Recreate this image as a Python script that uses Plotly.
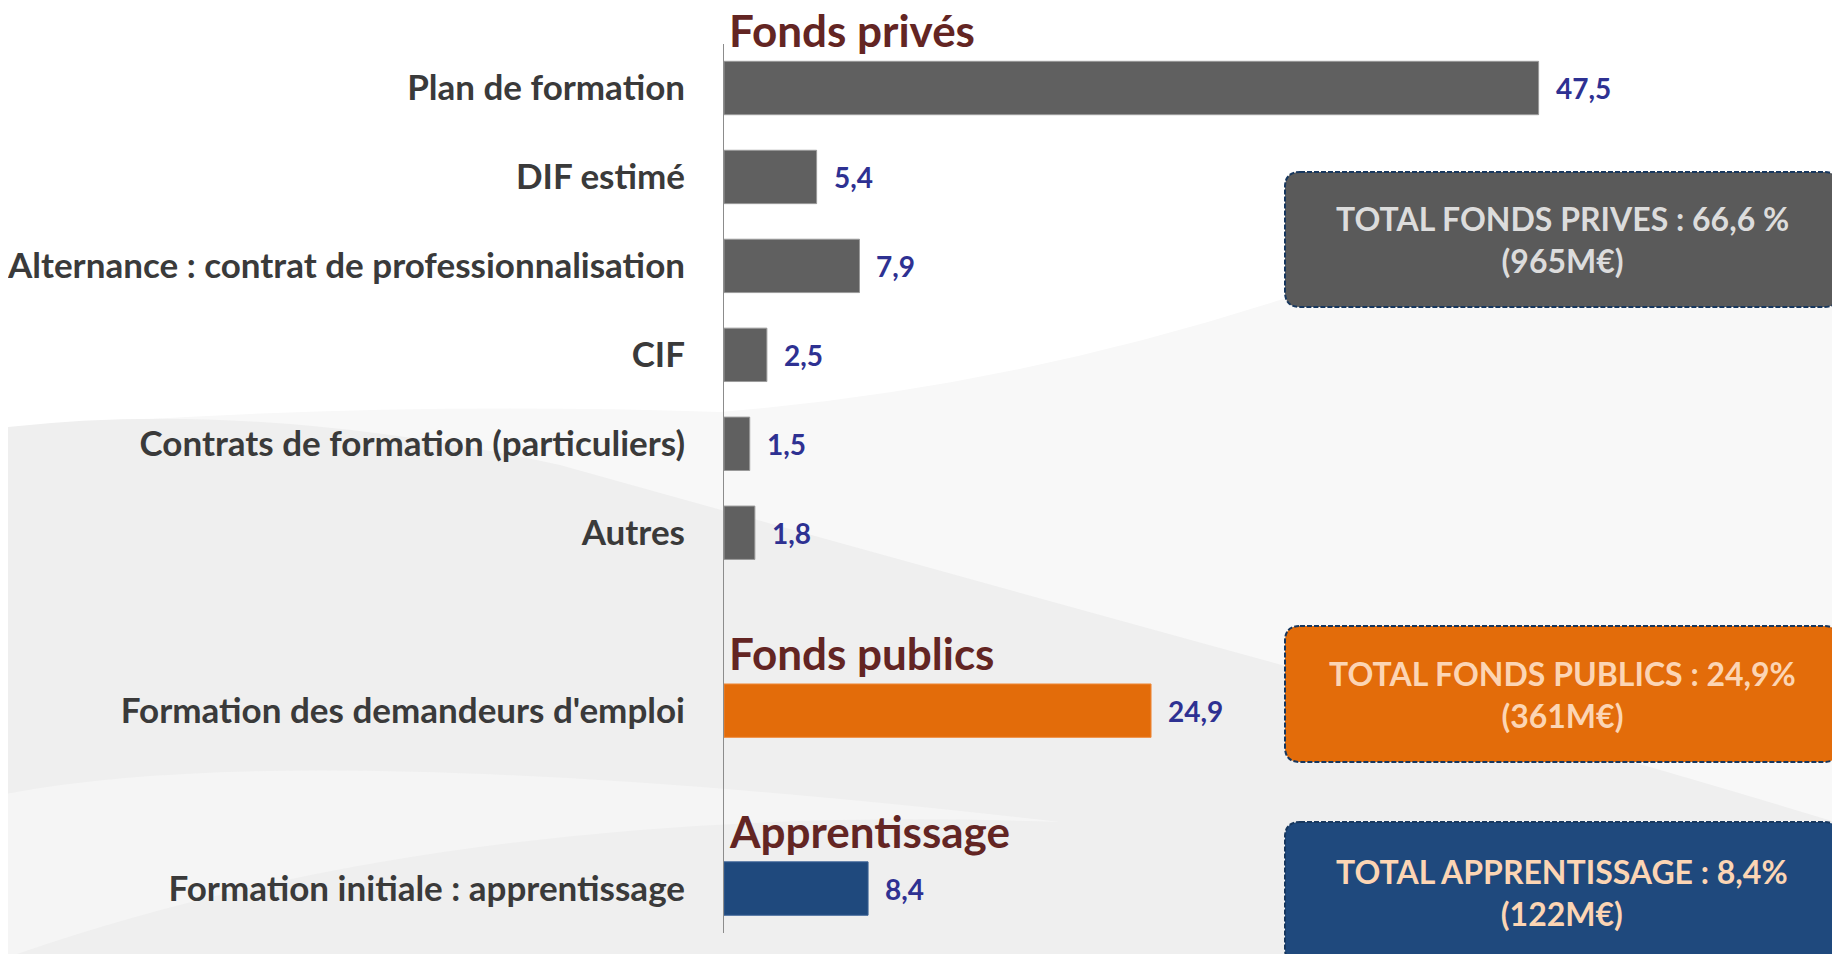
import plotly.graph_objects as go

# ---------------- data ----------------
categories = [
    "Plan de formation",
    "DIF estimé",
    "Alternance : contrat de professionnalisation",
    "CIF",
    "Contrats de formation (particuliers)",
    "Autres",
    "Formation des demandeurs d'emploi",
    "Formation initiale : apprentissage",
]
values = [47.5, 5.4, 7.9, 2.5, 1.5, 1.8, 24.9, 8.4]
groups = ["prive", "prive", "prive", "prive", "prive", "prive", "public", "apprentissage"]
group_titles = {"prive": "Fonds privés", "public": "Fonds publics", "apprentissage": "Apprentissage"}
group_totals = {
    "prive": ["TOTAL FONDS PRIVES : 66,6 %", "(965M€)"],
    "public": ["TOTAL FONDS PUBLICS : 24,9%", "(361M€)"],
    "apprentissage": ["TOTAL APPRENTISSAGE : 8,4%", "(122M€)"],
}

# ---------------- styles ----------------
bar_colors = {"prive": "#606060", "public": "#E36C0A", "apprentissage": "#1F497D"}
bar_edge = {"prive": "#9A9A9A", "public": "#F08A3A", "apprentissage": "#3A6296"}
box_colors = {"prive": "#5A5A5A", "public": "#E36C0A", "apprentissage": "#1F497D"}
box_text_colors = {"prive": "#DCDCDC", "public": "#FCD5B4", "apprentissage": "#FCD5B4"}
FONT = "Lato, 'Open Sans', sans-serif"

OFF = 8  # page body margin
W, H = 1840 - OFF, 954 - OFF
ML, MR, MT = 724 - OFF, 0, 44 - OFF
MB = H - (933 - OFF)
PW, PH = W - ML - MR, H - MT - MB
ROW_PX = 88.95

# positions: one empty slot between groups
positions = []
p, prev = 0, None
for g in groups:
    if prev is not None and g != prev:
        p += 1
    positions.append(p)
    p += 1
    prev = g

y_top = -(88 - 44) / ROW_PX
y_bot = y_top + PH / ROW_PX

# page-pixel -> paper coordinates
def px(x):
    return (x - OFF - ML) / PW

def py(y):
    return (H - MB - (y - OFF)) / PH

fig = go.Figure()
fig.add_trace(go.Bar(
    x=values, y=positions, orientation="h",
    marker=dict(color=[bar_colors[g] for g in groups],
                line=dict(width=1, color=[bar_edge[g] for g in groups])),
    width=0.6, hoverinfo="skip", showlegend=False,
))

annotations = []
# value labels
for v, yp in zip(values, positions):
    annotations.append(dict(
        x=v, y=yp, xref="x", yref="y", text=f"<b>{v:.1f}</b>".replace(".", ","),
        showarrow=False, xanchor="left", yanchor="middle", xshift=15,
        font=dict(family=FONT, size=28, color="#2E3192"),
    ))
# group headers
seen = set()
for g, yp in zip(groups, positions):
    if g in seen:
        continue
    seen.add(g)
    annotations.append(dict(
        x=0, y=yp, xref="x", yref="y", text=f"<b>{group_titles[g]}</b>",
        showarrow=False, xanchor="left", yanchor="middle", xshift=3,
        yshift=0.65 * ROW_PX,
        font=dict(family=FONT, size=44, color="#632523"),
    ))

# ---------------- background swooshes ----------------
def path_px(points_cmds):
    out = []
    for cmd, pts in points_cmds:
        coords = " ".join(f"{px(a):.5f},{py(b):.5f}" for a, b in pts)
        out.append(f"{cmd}{coords}")
    return " ".join(out) + " Z"

shapes = []
shapes.append(dict(
    type="path", xref="paper", yref="paper", layer="below", line=dict(width=0),
    fillcolor="#F8F8F8",
    path=path_px([("M", [(0, 430)]), ("Q", [(350, 400), (720, 412)]),
                  ("Q", [(1000, 390), (1280, 300)]), ("Q", [(1500, 240), (1845, 225)]),
                  ("L", [(1845, 960)]), ("L", [(0, 960)])]),
))
shapes.append(dict(
    type="path", xref="paper", yref="paper", layer="below", line=dict(width=0),
    fillcolor="#EFEFEF",
    path=path_px([("M", [(0, 428)]), ("Q", [(250, 398), (560, 465)]),
                  ("Q", [(900, 560), (1300, 670)]), ("Q", [(1600, 750), (1845, 825)]),
                  ("L", [(1845, 960)]), ("L", [(0, 960)])]),
))
shapes.append(dict(
    type="path", xref="paper", yref="paper", layer="below", line=dict(width=0),
    fillcolor="#F5F5F5",
    path=path_px([("M", [(0, 795)]), ("Q", [(300, 735), (1060, 822)]),
                  ("Q", [(450, 800), (0, 960)])]),
))

# ---------------- total boxes ----------------
def rounded_box(x0, y0, x1, y1, r):
    return path_px([
        ("M", [(x0 + r, y0)]), ("L", [(x1 - r, y0)]), ("Q", [(x1, y0), (x1, y0 + r)]),
        ("L", [(x1, y1 - r)]), ("Q", [(x1, y1), (x1 - r, y1)]),
        ("L", [(x0 + r, y1)]), ("Q", [(x0, y1), (x0, y1 - r)]),
        ("L", [(x0, y0 + r)]), ("Q", [(x0, y0), (x0 + r, y0)]),
    ])

box_rows = {"prive": (172, 307), "public": (626, 762), "apprentissage": (822, 964)}
bx0, bx1 = 1285, 1839
for g in ["prive", "public", "apprentissage"]:
    y0, y1 = box_rows[g]
    shapes.append(dict(
        type="path", xref="paper", yref="paper", layer="above",
        path=rounded_box(bx0, y0, bx1, y1, 15),
        fillcolor=box_colors[g], line=dict(color="#17375E", width=2, dash="5px,2px"),
    ))
    cy = (y0 + y1) / 2 if g != "apprentissage" else 892
    l1, l2 = group_totals[g]
    annotations.append(dict(
        x=px((bx0 + bx1) / 2), y=py(cy), xref="paper", yref="paper",
        text=f"<b>{l1}</b><br><b>{l2}</b>", showarrow=False, align="center",
        xanchor="center", yanchor="middle",
        font=dict(family=FONT, size=32, color=box_text_colors[g]),
    ))

fig.update_layout(
    width=W, height=H,
    margin=dict(l=ML, r=MR, t=MT, b=MB, pad=0),
    paper_bgcolor="#FFFFFF", plot_bgcolor="rgba(0,0,0,0)",
    xaxis=dict(range=[0, PW / 17.15], visible=False, fixedrange=True),
    yaxis=dict(
        range=[y_bot, y_top], tickvals=positions, ticktext=categories,
        showgrid=False, zeroline=False, showline=True, linecolor="#8C8C8C", linewidth=1,
        ticks="", ticklabelstandoff=31,
        tickfont=dict(family=FONT, size=35, color="#3A3A3A", weight="bold"),
        fixedrange=True,
    ),
    shapes=shapes, annotations=annotations,
    bargap=0.4,
)

fig.write_html("out.html")
